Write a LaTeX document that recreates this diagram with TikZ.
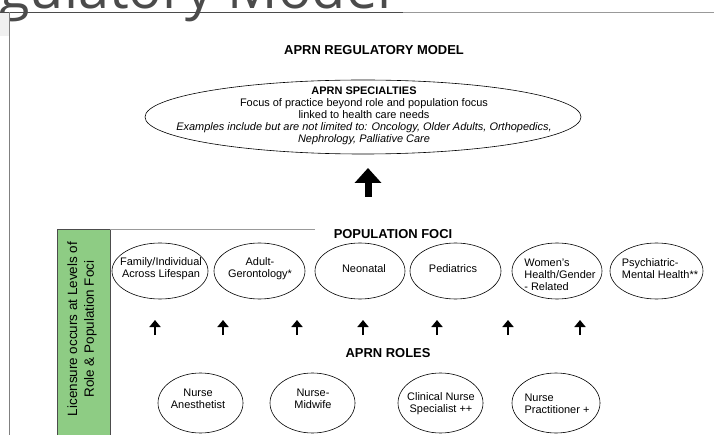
\documentclass[tikz,border=0pt]{standalone}
\usepackage{fontspec}
\setmainfont{Liberation Sans}
\newfontfamily\titlefont{Open Sans}
\usetikzlibrary{arrows.meta,shapes.geometric}
\definecolor{lgreen}{RGB}{142,204,132}
\definecolor{ttlgray}{RGB}{75,75,75}
\tikzset{
  bub/.style={draw=black, ellipse, line width=0.6bp, inner sep=0pt, fill=white},
  lbl/.style={font=\fontsize{11}{12.2}\selectfont, align=center, inner sep=0pt},
  lbll/.style={font=\fontsize{11}{12.2}\selectfont, align=left, inner sep=0pt},
  hdr/.style={font=\fontsize{13}{14}\selectfont\bfseries, inner sep=0pt},
  uparrow/.style={line width=2.8bp, -{Triangle[width=11bp,length=7bp]}},
  bigarrow/.style={line width=7bp, -{Triangle[width=26bp,length=15bp]}},
}
\begin{document}
\begin{tikzpicture}[x=1bp,y=-1bp]
\useasboundingbox (0,0) rectangle (714,435);
\clip (0,0) rectangle (714,435);
\fill[white] (0,0) rectangle (714,435);
% cropped slide title
\node[anchor=base west, inner sep=0pt, text=ttlgray, font=\fontsize{56}{56}\selectfont\titlefont] (slidetitle) at (-1,8.5) {gulatory Model};
\fill[gray!12] (0,13) rectangle (8.5,36);
\draw[gray!80, line width=0.8bp] (9,12.5) -- (714,12.5);
\draw[ttlgray, line width=1.6bp] (0,12.5) -- (403,12.5);
\draw[gray, line width=1bp] (9,12.5) -- (9,440);
% green side box
\draw[fill=lgreen, draw=gray!60!black, line width=0.8bp] (57,229) rectangle (110,445);
\draw[gray!80, line width=0.8bp] (110,229) -- (315,229);
\node[rotate=90, align=center, inner sep=0pt, font=\fontsize{13.5}{17}\selectfont] (lic) at (82,329) {Licensure occurs at Levels of\\Role \& Population Foci};
% title
\node[hdr] (title) at (374,50) {APRN REGULATORY MODEL};
% specialties
\node[bub, minimum width=436bp, minimum height=74bp] (spec) at (363,117) {};
\node[lbl, font=\fontsize{11}{12}\selectfont] (specT) at (364,116) {\textbf{APRN SPECIALTIES}\\Focus of practice beyond role and population focus\\linked to health care needs\\\textit{Examples include but are not limited to: Oncology, Older Adults, Orthopedics,}\\\textit{Nephrology, Palliative Care}};
\coordinate (bigA) at (368,197);
\coordinate (bigB) at (368,168);
\draw[bigarrow] (bigA) -- (bigB);
% population foci
\node[hdr] (popT) at (393,234) {POPULATION FOCI};
\node[bub, minimum width=96bp, minimum height=56bp] (fam) at (160,271) {};
\node[lbl] (famT) at (161,269) {Family/Individual\\Across Lifespan};
\node[bub, minimum width=91bp, minimum height=56bp] (adult) at (259.5,271) {};
\node[lbl] (adultT) at (260,269) {Adult-\\Gerontology*};
\node[bub, minimum width=90bp, minimum height=56bp] (neo) at (360,271) {};
\node[lbl] (neoT) at (364,269) {Neonatal};
\node[bub, minimum width=91bp, minimum height=56bp] (ped) at (455.5,271) {};
\node[lbl] (pedT) at (453,269) {Pediatrics};
\node[bub, minimum width=90bp, minimum height=56bp] (wom) at (557,271) {};
\node[lbll] (womT) at (560,275) {Women's\\Health/Gender\\- Related};
\node[bub, minimum width=93bp, minimum height=56bp] (psy) at (656.5,271) {};
\node[lbll] (psyT) at (660,269) {Psychiatric-\\Mental Health**};
% small arrows
\foreach \i/\x in {1/155,2/223,3/297,4/363,5/437,6/508,7/580}{
  \coordinate (sa\i) at (\x,335);
  \coordinate (sb\i) at (\x,320);
  \draw[uparrow] (sa\i) -- (sb\i);
}
% roles
\node[hdr] (roleT) at (388,353) {APRN ROLES};
\node[bub, minimum width=85bp, minimum height=60bp] (anes) at (200.5,403) {};
\node[lbl] (anesT) at (198,399) {Nurse\\Anesthetist};
\node[bub, minimum width=85bp, minimum height=60bp] (mid) at (312.5,403) {};
\node[lbl] (midT) at (313,399) {Nurse-\\Midwife};
\node[bub, minimum width=85bp, minimum height=60bp] (cns) at (440.5,403) {};
\node[lbl] (cnsT) at (441,404) {Clinical Nurse\\Specialist ++};
\node[bub, minimum width=88bp, minimum height=60bp] (np) at (556,403) {};
\node[lbll] (npT) at (557,404) {Nurse\\Practitioner +};
\end{tikzpicture}
\end{document}
